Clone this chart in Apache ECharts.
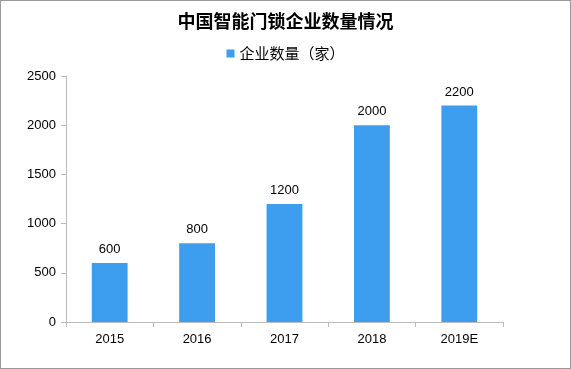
<!DOCTYPE html>
<html><head><meta charset="utf-8">
<script src="https://cdn.jsdelivr.net/npm/echarts@6/dist/echarts.min.js"></script>
<style>html,body{margin:0;padding:0;background:#fff}#c{width:569px;height:367px;border:1px solid #999}</style>
</head><body><div id="c"></div>
<script>
var categories = ['2015','2016','2017','2018','2019E'];
var values = [600, 800, 1200, 2000, 2200];
var yTicks = [0, 500, 1000, 1500, 2000, 2500];
var chart = echarts.init(document.getElementById('c'));
chart.setOption({
  animation:false,
  title:{text:'中国智能门锁企业数量情况',left:'center',top:6,textStyle:{fontSize:18,fontWeight:'bold',color:'#000',fontFamily:'Noto Sans CJK SC'}},
  legend:{top:40,left:'center',itemWidth:8,itemHeight:8,itemGap:3,icon:'rect',textStyle:{fontSize:15,color:'#000',fontFamily:'Noto Sans CJK SC'},data:['企业数量（家）']},
  grid:{left:65,right:67,top:75,bottom:46},
  xAxis:{type:'category',data:categories,axisLine:{lineStyle:{color:'#bbb'}},axisTick:{show:true,length:5,lineStyle:{color:'#bbb'}},axisLabel:{color:'#000',fontSize:13,margin:11,fontFamily:'Liberation Sans'}},
  yAxis:{type:'value',min:yTicks[0],max:yTicks[yTicks.length-1],interval:500,axisLine:{show:true,lineStyle:{color:'#bbb'}},axisTick:{show:true,length:5,lineStyle:{color:'#bbb'}},splitLine:{show:false},axisLabel:{color:'#000',fontSize:13,margin:10,fontFamily:'Liberation Sans',formatter:function(v){return String(v);}}},
  series:[{name:'企业数量（家）',type:'bar',data:values,barWidth:'41%',itemStyle:{color:'#3d9ef0'},label:{show:true,position:'top',color:'#000',fontSize:13,distance:7,fontFamily:'Liberation Sans'}}]
});
</script></body></html>
